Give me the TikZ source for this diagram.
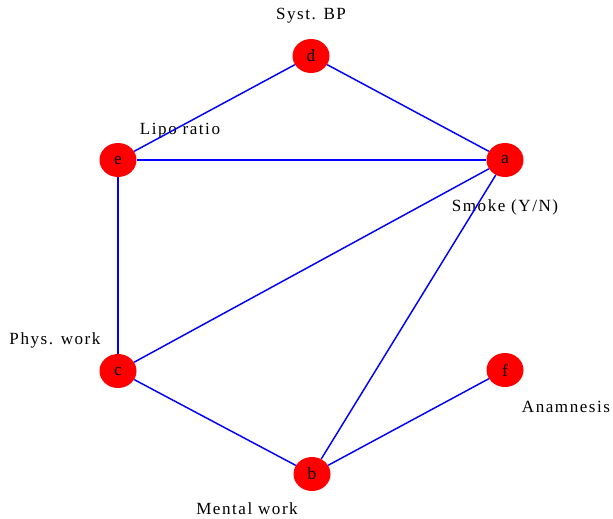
\documentclass[tikz,border=0pt]{standalone}
\usepackage{fontspec}
\setmainfont{Liberation Serif}
\newfontfamily\spacedfont[LetterSpace=9]{Liberation Serif}
\usetikzlibrary{shapes.geometric}
\tikzset{
  vtx/.style={ellipse,fill=red,inner sep=0pt,minimum width=37*0.75pt,minimum height=34*0.75pt,font=\fontsize{13}{15}\selectfont},
  lbl/.style={font=\spacedfont\fontsize{12.8}{14}\selectfont},
  link/.style={blue,line width=1.1pt}
}
\begin{document}
\begin{tikzpicture}[x=0.75pt,y=-0.75pt]
  \useasboundingbox (0,0) rectangle (613,518);
  \node[vtx,label={[lbl,xshift=0pt,yshift=40*0.75pt]center:Syst. BP}] (d) at (311,56) {d};
  \node[vtx,label={[lbl,xshift=0pt,yshift=-47*0.75pt]center:Smoke (Y/N)}] (a) at (505,160) {a};
  \node[vtx,label={[lbl,xshift=62*0.75pt,yshift=29*0.75pt]center:Lipo ratio}] (e) at (118,160) {e};
  \node[vtx,label={[lbl,xshift=-63*0.75pt,yshift=31*0.75pt]center:Phys. work}] (c) at (118,371) {c};
  \node[vtx,label={[lbl,xshift=61*0.75pt,yshift=-37*0.75pt]center:Anamnesis}] (f) at (505,370) {f};
  \node[vtx,label={[lbl,xshift=-65*0.75pt,yshift=-35*0.75pt]center:Mental work}] (b) at (312,474) {b};
  \draw[link] (d) -- (a);
  \draw[link] (d) -- (e);
  \draw[link] (e) -- (a);
  \draw[link] (e) -- (c);
  \draw[link] (c) -- (a);
  \draw[link] (c) -- (b);
  \draw[link] (b) -- (a);
  \draw[link] (b) -- (f);
\end{tikzpicture}
\end{document}
